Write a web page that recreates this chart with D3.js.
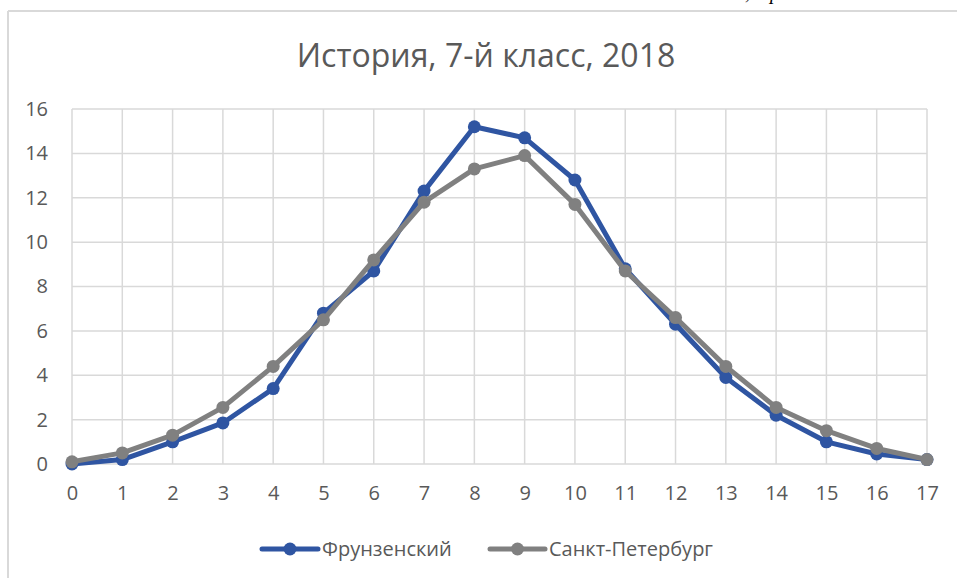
<!DOCTYPE html>
<html>
<head>
<meta charset="utf-8">
<script src="https://cdn.jsdelivr.net/npm/d3@7"></script>
<style>
  html, body { margin: 0; padding: 0; background: #fff; }
  svg { display: block; }
</style>
</head>
<body>
<svg id="chart" width="957" height="578"></svg>
<script>
// Scores (x) and share of pupils, %
const scores = [0, 1, 2, 3, 4, 5, 6, 7, 8, 9, 10, 11, 12, 13, 14, 15, 16, 17];
const frunzensky = [0, 0.2, 1.0, 1.85, 3.4, 6.8, 8.7, 12.3, 15.2, 14.7, 12.8, 8.8, 6.3, 3.9, 2.2, 1.0, 0.45, 0.2];
const spb = [0.1, 0.5, 1.3, 2.55, 4.4, 6.5, 9.2, 11.8, 13.3, 13.9, 11.7, 8.7, 6.6, 4.4, 2.55, 1.5, 0.7, 0.2];
const yTicks = [0, 2, 4, 6, 8, 10, 12, 14, 16];
const seriesNames = ["Фрунзенский", "Санкт-Петербург"];
const seriesColors = ["#2F55A2", "#808080"];
const titleText = "История, 7-й класс, 2018";

const svg = d3.select("#chart");
const font = "'Open Sans', 'Noto Sans', sans-serif";
const textColor = "#595959";

// outer frame (left and top edges visible)
svg.append("line").attr("x1", 8).attr("x2", 957).attr("y1", 11).attr("y2", 11)
  .attr("stroke", "#d9d9d9").attr("stroke-width", 2);
svg.append("line").attr("x1", 8).attr("x2", 8).attr("y1", 11).attr("y2", 578)
  .attr("stroke", "#d9d9d9").attr("stroke-width", 2);

// caption line above the frame, mostly cut off
svg.append("text").attr("x", 745).attr("y", -1)
  .attr("font-family", "'Liberation Serif', serif").attr("font-style", "italic")
  .attr("font-size", 20).attr("fill", "#000").text(", д   р");

const x = d3.scaleLinear().domain([0, 17]).range([72, 927]);
const y = d3.scaleLinear().domain([0, 16]).range([464, 109]);

// gridlines
svg.append("g").selectAll("line").data(yTicks).join("line")
  .attr("x1", x(0)).attr("x2", x(17))
  .attr("y1", d => y(d)).attr("y2", d => y(d))
  .attr("stroke", "#d9d9d9").attr("stroke-width", 1.5);
svg.append("g").selectAll("line").data(scores).join("line")
  .attr("x1", d => x(d)).attr("x2", d => x(d))
  .attr("y1", y(0)).attr("y2", y(16))
  .attr("stroke", "#d9d9d9").attr("stroke-width", 1.5);

// axes labels
const yAxis = d3.axisLeft(y).tickValues(yTicks).tickSize(0).tickPadding(24);
const gy = svg.append("g").attr("transform", `translate(${x(0)},0)`).call(yAxis);
gy.select(".domain").remove();
gy.selectAll("text").attr("font-family", font).attr("font-size", 20).attr("fill", textColor);

const xAxis = d3.axisBottom(x).tickValues(scores).tickSize(0).tickPadding(22);
const gx = svg.append("g").attr("transform", `translate(0,${y(0)})`).call(xAxis);
gx.select(".domain").remove();
gx.selectAll("text").attr("font-family", font).attr("font-size", 20).attr("fill", textColor);

// title
svg.append("text").attr("x", 486).attr("y", 67).attr("text-anchor", "middle")
  .attr("font-family", font).attr("font-size", 32).attr("fill", textColor).text(titleText);

// series
const line = d3.line().x((d, i) => x(scores[i])).y(d => y(d));
const allSeries = [frunzensky, spb];
allSeries.forEach((vals, si) => {
  const g = svg.append("g");
  g.append("path").datum(vals).attr("d", line).attr("fill", "none")
    .attr("stroke", seriesColors[si]).attr("stroke-width", 5).attr("stroke-linejoin", "round");
  g.selectAll("circle").data(vals).join("circle")
    .attr("cx", (d, i) => x(scores[i])).attr("cy", d => y(d)).attr("r", 6.5)
    .attr("fill", seriesColors[si]);
});

// legend
const legendItems = [{ x0: 262, x1: 318, tx: 322 }, { x0: 490, x1: 545, tx: 549 }];
legendItems.forEach((it, i) => {
  const g = svg.append("g");
  g.append("line").attr("x1", it.x0).attr("x2", it.x1).attr("y1", 549).attr("y2", 549)
    .attr("stroke", seriesColors[i]).attr("stroke-width", 5).attr("stroke-linecap", "round");
  g.append("circle").attr("cx", (it.x0 + it.x1) / 2).attr("cy", 549).attr("r", 6.5).attr("fill", seriesColors[i]);
  g.append("text").attr("x", it.tx).attr("y", 556).attr("font-family", font)
    .attr("font-size", 20).attr("fill", textColor).text(seriesNames[i]);
});
</script>
</body>
</html>
